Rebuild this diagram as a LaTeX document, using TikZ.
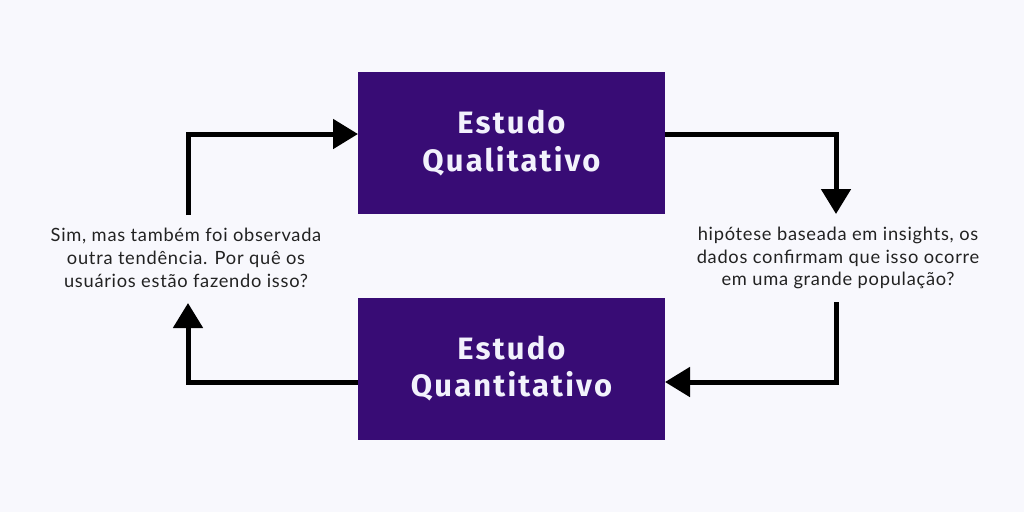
\documentclass[tikz,border=0pt]{standalone}
\usepackage{fontspec}
\setmainfont{Lato}[LetterSpace=4]
\newfontfamily\studyfont{Fira Sans}[LetterSpace=7]
\usetikzlibrary{arrows.meta}
\definecolor{bgcol}{HTML}{F8F8FD}
\definecolor{studycol}{HTML}{380C75}
\definecolor{studytext}{HTML}{F2F2FC}
\definecolor{notecol}{HTML}{222222}
\tikzstyle{StudyBox}=[rectangle, fill=studycol, minimum width=6.14cm, minimum height=2.84cm, inner sep=0pt, align=center, text=studytext, font=\studyfont\bfseries\fontsize{17.6}{21.5}\selectfont]
\tikzstyle{NoteText}=[align=center, inner sep=2pt, text=notecol, font=\fontsize{10.4}{13}\selectfont]
\tikzstyle{FlowEdge}=[-{Triangle[length=0.5cm,width=0.58cm]}, line width=0.1cm, black]
\tikzset{>=latex}

\begin{document}
\begin{tikzpicture}[x=0.02cm,y=-0.02cm]
\fill[bgcol] (0,0) rectangle (1024,512);

\node[StudyBox](quali) at (511.5,143) {Estudo\\Qualitativo};
\node[StudyBox](quanti) at (511.5,368.5) {Estudo\\Quantitativo};

\node[NoteText](leftnote) at (186,258) {Sim, mas também foi observada\\outra tendência. Por quê os\\usuários estão fazendo isso?};
\node[NoteText](rightnote) at (838,258) {hipótese baseada em insights, os\\dados confirmam que isso ocorre\\em uma grande população?};

\coordinate (qualiIn) at (358,134);
\coordinate (qualiOut) at (665,134);
\coordinate (quantiIn) at (665,382);
\coordinate (quantiOut) at (358,382);
\coordinate (leftTop) at (188,215);
\coordinate (leftBot) at (188,303);
\coordinate (rightTop) at (836,214);
\coordinate (rightBot) at (836,302);

\draw[FlowEdge](leftTop) |- (qualiIn);
\draw[FlowEdge](qualiOut) -| (rightTop);
\draw[FlowEdge](rightBot) |- (quantiIn);
\draw[FlowEdge](quantiOut) -| (leftBot);
\end{tikzpicture}
\end{document}
